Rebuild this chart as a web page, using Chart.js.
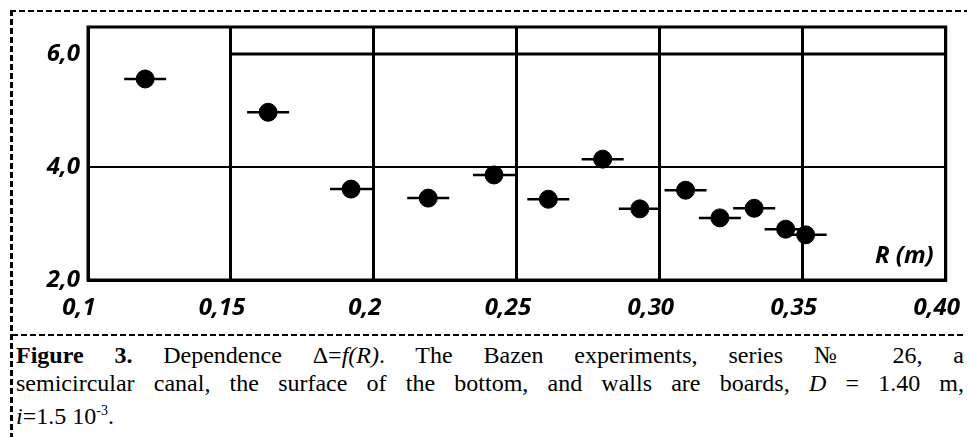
<!DOCTYPE html>
<html>
<head>
<meta charset="utf-8">
<script src="https://cdn.jsdelivr.net/npm/chart.js@4/dist/chart.umd.min.js"></script>
<style>
html, body { margin: 0; padding: 0; background: #fff; }
body { width: 970px; height: 437px; position: relative; overflow: hidden; }
.hdash { position: absolute; height: 2px; background: repeating-linear-gradient(to right, #000 0 6px, transparent 6px 9px); }
.vdash { position: absolute; width: 3px; background: repeating-linear-gradient(to bottom, #000 0 6px, transparent 6px 9px); }
#chartBox { position: absolute; left: 0; top: 0; width: 983px; height: 334px; }
#caption { position: absolute; left: 16px; top: 342px; width: 948px; font-family: 'Liberation Serif', 'Times New Roman', serif; font-size: 24px; line-height: 27.5px; color: #000; }
.jl { display: block; text-align: justify; text-align-last: justify; }
</style>
</head>
<body>
<div class="hdash" style="left:10px; top:10px; width:957px;"></div>
<div class="vdash" style="left:10px; top:10px; height:427px;"></div>
<div class="hdash" style="left:12px; top:334px; width:954px;"></div>
<div id="chartBox"><canvas id="deltaChart"></canvas></div>
<div id="caption">
  <span class="jl"><b>Figure 3.</b> Dependence &Delta;=<i>f(R)</i>. The Bazen experiments, series &#8470; 26, a</span>
  <span class="jl">semicircular canal, the surface of the bottom, and walls are boards, <i>D</i> = 1.40 m,</span>
  <span><i>i</i>=1.5 10<sup style="font-size:14px">-3</sup>.</span>
</div>
<script>
const radiusR = [0.120, 0.163, 0.192, 0.219, 0.242, 0.261, 0.280, 0.293, 0.309, 0.321, 0.333, 0.344, 0.351];
const deltaValues = [5.56, 4.97, 3.61, 3.45, 3.86, 3.43, 4.14, 3.26, 3.59, 3.10, 3.27, 2.90, 2.80];

// Axis ticks as printed
const xTickLabels = ['0,1', '0,15', '0,2', '0,25', '0,30', '0,35', '0,40'];
const yTickValues = [2, 4, 6];
const yTickLabels = ['2,0', '4,0', '6,0'];
const axisTitle = 'R (m)';

const points = radiusR.map((r, i) => ({ x: r, y: deltaValues[i] }));

const tickFont = { family: "'Open Sans', sans-serif", size: 24, weight: 'bold', style: 'italic' };

// Box around the plot, the upper line (only from 0,15 on) and the R (m) label
const framePlugin = {
    id: 'frame',
    beforeDatasetsDraw(chart) {
        const { ctx, chartArea, scales } = chart;
        ctx.save();
        ctx.strokeStyle = '#000';
        ctx.lineWidth = 3;
        ctx.strokeRect(chartArea.left, chartArea.top, chartArea.right - chartArea.left, chartArea.bottom - chartArea.top);
        const y6 = scales.y.getPixelForValue(6);
        ctx.beginPath();
        ctx.moveTo(scales.x.getPixelForValue(0.15), y6);
        ctx.lineTo(chartArea.right, y6);
        ctx.stroke();
        ctx.restore();
    },
    afterDraw(chart) {
        const { ctx, chartArea } = chart;
        ctx.save();
        ctx.font = 'italic bold 24px "Open Sans", sans-serif';
        ctx.fillStyle = '#000';
        ctx.textAlign = 'right';
        ctx.textBaseline = 'middle';
        ctx.fillText(axisTitle, chartArea.right - 12, chartArea.bottom - 24);
        ctx.restore();
    }
};

new Chart(document.getElementById('deltaChart'), {
    type: 'scatter',
    data: {
        datasets: [
            {
                label: 'Delta',
                data: points,
                pointStyle: 'circle',
                pointRadius: 9,
                backgroundColor: '#000',
                borderColor: '#000'
            },
            {
                label: 'spread',
                data: points,
                pointStyle: 'line',
                pointRadius: 21,
                borderWidth: 2.5,
                borderColor: '#000',
                backgroundColor: '#000'
            }
        ]
    },
    options: {
        responsive: true,
        maintainAspectRatio: false,
        animation: false,
        layout: { padding: { top: 27, right: 0, left: 0, bottom: 0 } },
        plugins: {
            legend: { display: false },
            tooltip: { enabled: false }
        },
        scales: {
            x: {
                type: 'linear',
                min: 0.1,
                max: 0.4,
                afterFit: (scale) => { scale.height = 54; },
                border: { display: true, color: '#000', width: 3 },
                grid: { color: '#000', lineWidth: 3, drawTicks: false },
                ticks: {
                    stepSize: 0.05,
                    autoSkip: false,
                    maxRotation: 0,
                    padding: 14,
                    labelOffset: -9,
                    color: '#000',
                    font: tickFont,
                    callback: (value, index) => xTickLabels[index]
                }
            },
            y: {
                type: 'linear',
                min: 2,
                max: 6.48,
                afterFit: (scale) => { scale.width = 88; },
                afterBuildTicks: (scale) => { scale.ticks = yTickValues.map(v => ({ value: v })); },
                border: { display: true, color: '#000', width: 3 },
                grid: {
                    color: (c) => (c.tick && c.tick.value === 4 ? '#000' : 'rgba(0,0,0,0)'),
                    lineWidth: 2,
                    drawTicks: false
                },
                ticks: {
                    padding: 8,
                    color: '#000',
                    font: tickFont,
                    callback: (value, index) => yTickLabels[index]
                }
            }
        }
    },
    plugins: [framePlugin]
});
</script>
</body>
</html>
